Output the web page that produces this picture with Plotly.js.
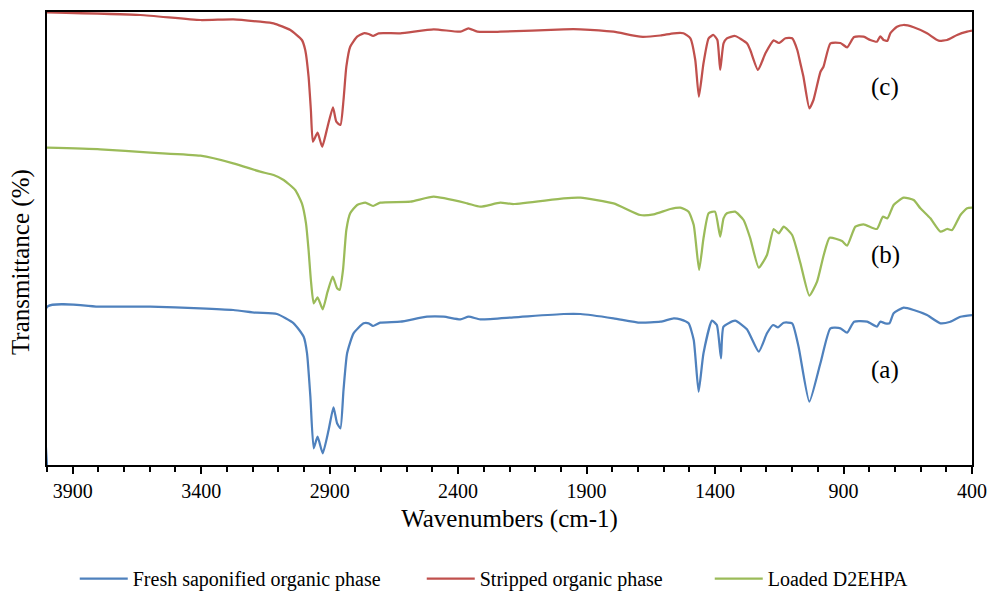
<!DOCTYPE html>
<html>
<head>
<meta charset="utf-8">
<script src="https://cdn.plot.ly/plotly-3.0.1.min.js"></script>
<style>
  html, body { margin: 0; padding: 0; background: #ffffff; }
  #chart { width: 988px; height: 592px; }
</style>
</head>
<body>
<div id="chart"></div>
<script>
// FTIR spectra, vertically offset (arbitrary transmittance units)

// (a) Fresh saponified organic phase
const freshWn = [4000, 3999, 3793, 3598, 3403, 3275, 3183, 3105, 3040, 3001, 2988, 2975, 2962, 2947, 2927, 2904, 2885, 2871, 2858, 2846, 2832, 2807, 2768, 2748, 2731, 2703, 2625, 2521, 2456, 2391, 2359, 2314, 2184, 1989, 1924, 1795, 1691, 1613, 1561, 1535, 1503, 1483, 1464, 1445, 1412, 1393, 1377, 1367, 1322, 1276, 1230, 1198, 1174, 1155, 1133, 1100, 1075, 1033, 990, 951, 912, 886, 859, 808, 770, 757, 738, 721, 705, 666, 627, 575, 523, 484, 445, 400];
const freshT = [0, 15.83, 15.83, 15.83, 15.67, 15.5, 15.23, 15.1, 14.17, 12.83, 11.17, 6.83, 1.67, 2.83, 1.17, 3.5, 5.77, 4.17, 3.67, 7.5, 11.17, 13.17, 14.17, 14.17, 13.9, 14.23, 14.33, 14.83, 14.83, 14.57, 14.83, 14.57, 14.77, 15.1, 15.1, 14.67, 14.23, 14.33, 14.67, 14.57, 14.17, 12.5, 7.33, 11.17, 14.43, 14.0, 10.67, 13.83, 14.43, 13.57, 11.33, 13.17, 14.0, 13.77, 14.23, 14.17, 11.83, 6.33, 10.17, 13.67, 13.67, 13.23, 14.33, 14.33, 13.83, 14.33, 14.17, 14.17, 15.17, 15.73, 15.5, 15.0, 14.17, 14.33, 14.83, 15.0];

// (c) Stripped organic phase
const strippedWn = [4000, 3637, 3403, 3275, 3170, 3118, 3053, 3008, 2995, 2982, 2973, 2965, 2947, 2929, 2908, 2887, 2874, 2858, 2846, 2835, 2820, 2793, 2768, 2748, 2731, 2709, 2625, 2495, 2391, 2360, 2325, 2236, 1989, 1924, 1795, 1691, 1613, 1561, 1523, 1496, 1477, 1463, 1445, 1425, 1406, 1391, 1380, 1367, 1354, 1322, 1276, 1263, 1233, 1204, 1172, 1152, 1126, 1100, 1080, 1068, 1056, 1033, 1017, 990, 978, 951, 912, 886, 859, 822, 796, 770, 757, 744, 729, 718, 692, 666, 627, 575, 530, 497, 458, 419, 400];
const strippedT = [45.27, 45.0, 44.5, 44.57, 44.33, 44.17, 43.5, 42.5, 41.5, 38.83, 35.5, 32.33, 33.23, 31.83, 33.83, 35.77, 34.33, 34.0, 36.5, 39.83, 41.83, 42.83, 43.17, 43.1, 42.9, 43.17, 43.17, 43.57, 43.33, 43.67, 43.33, 43.33, 43.57, 43.57, 43.33, 42.83, 42.95, 43.17, 43.17, 42.67, 40.5, 36.83, 40.17, 42.67, 43.0, 42.5, 39.5, 42.17, 42.67, 42.9, 42.17, 41.5, 39.5, 41.17, 42.47, 42.2, 42.67, 42.67, 41.5, 40.17, 38.83, 35.67, 36.5, 39.3, 39.83, 42.17, 42.2, 41.77, 42.8, 42.83, 42.5, 42.33, 42.87, 42.5, 42.43, 43.17, 43.83, 44.0, 43.77, 43.17, 42.43, 42.5, 43.0, 43.33, 43.43];

// (b) Loaded D2EHPA
const loadedWn = [4000, 3793, 3598, 3403, 3275, 3170, 3118, 3079, 3034, 3008, 2992, 2982, 2973, 2962, 2947, 2927, 2908, 2888, 2871, 2861, 2848, 2835, 2820, 2793, 2761, 2731, 2703, 2586, 2495, 2365, 2314, 2236, 2184, 1989, 1924, 1795, 1691, 1639, 1574, 1535, 1503, 1483, 1462, 1445, 1425, 1400, 1380, 1367, 1354, 1322, 1289, 1263, 1230, 1198, 1172, 1152, 1133, 1100, 1068, 1033, 1003, 977, 954, 906, 886, 854, 822, 770, 747, 729, 705, 666, 627, 601, 562, 523, 497, 477, 445, 419, 400];
const loadedT = [31.73, 31.57, 31.23, 30.93, 30.17, 29.33, 29.0, 28.5, 27.5, 26.17, 24.17, 21.5, 18.5, 16.17, 16.77, 15.57, 17.33, 18.83, 17.67, 17.5, 19.5, 23.5, 25.17, 26.0, 26.23, 25.9, 26.23, 26.33, 26.83, 26.17, 25.83, 26.23, 26.1, 26.67, 26.73, 26.17, 25.0, 25.07, 25.6, 25.73, 25.33, 24.0, 19.5, 22.67, 25.17, 25.33, 22.83, 24.67, 25.17, 25.33, 24.5, 22.67, 19.73, 21.0, 23.6, 23.17, 23.83, 23.0, 20.2, 16.93, 18.33, 21.0, 22.73, 22.4, 21.93, 23.83, 24.07, 23.6, 24.83, 24.67, 26.0, 26.73, 26.5, 25.67, 24.67, 23.33, 23.6, 23.5, 25.0, 25.67, 25.73];

const seriesNames = ['Fresh saponified organic phase', 'Stripped organic phase', 'Loaded D2EHPA'];
const seriesColors = ['#4F81BD', '#C0504D', '#9BBB59'];

// curve tags placed at the right side, next to each spectrum
const tagText = ['(a)', '(b)', '(c)'];
const tagWn = [738, 738, 738];
const tagT = [9.5, 21.0, 37.83];

const serif = 'Liberation Serif, Times New Roman, serif';

function spectrum(x, y, i, legendwidth) {
  return {
    type: 'scatter', mode: 'lines', x: x, y: y,
    name: seriesNames[i],
    line: { color: seriesColors[i], width: 2.25, shape: 'spline', smoothing: 0.5 },
    legendwidth: legendwidth,
    hoverinfo: 'x+y+name'
  };
}

const traces = [
  spectrum(freshWn, freshT, 0, 284),
  spectrum(strippedWn, strippedT, 1, 225),
  spectrum(loadedWn, loadedT, 2, 150)
];

const annotations = tagText.map((t, i) => ({
  x: tagWn[i], y: tagT[i], xref: 'x', yref: 'y',
  text: t, showarrow: false,
  font: { family: serif, size: 25, color: '#000000' },
  xanchor: 'center', yanchor: 'middle'
}));

// vertical axis caption, set a little below the axis middle
annotations.push({
  text: 'Transmittance (%)', xref: 'paper', yref: 'paper',
  x: -0.0281, y: 0.448, xanchor: 'center', yanchor: 'middle',
  textangle: -90, showarrow: false,
  font: { family: serif, size: 25, color: '#000000' }
});

const layout = {
  width: 988, height: 592,
  margin: { l: 47, r: 16, t: 12, b: 127, pad: 0, autoexpand: false },
  paper_bgcolor: '#ffffff', plot_bgcolor: '#ffffff',
  font: { family: serif, size: 20, color: '#000000' },
  showlegend: true,
  legend: {
    orientation: 'h', x: 0.03, xanchor: 'left', y: -0.2936, yanchor: 'bottom',
    font: { family: serif, size: 20, color: '#000000' },
    itemwidth: 48, traceorder: 'normal', bgcolor: 'rgba(0,0,0,0)'
  },
  xaxis: {
    range: [4000, 400],
    tick0: 400, dtick: 500,
    ticks: 'outside', ticklen: 7, tickwidth: 2, tickcolor: '#000000',
    minor: { dtick: 100, ticks: 'outside', ticklen: 5, tickwidth: 2, tickcolor: '#000000', showgrid: false },
    showgrid: false, zeroline: false,
    showline: true, linecolor: '#000000', linewidth: 2, mirror: true,
    tickfont: { family: serif, size: 20, color: '#000000' },
    title: { text: 'Wavenumbers (cm-1)', font: { family: serif, size: 25, color: '#000000' }, standoff: 8 }
  },
  yaxis: {
    range: [0, 45.3],
    showticklabels: false, ticks: '',
    showgrid: false, zeroline: false, layer: 'below traces',
    showline: true, linecolor: '#000000', linewidth: 2, mirror: true
  },
  annotations: annotations
};

Plotly.newPlot('chart', traces, layout, { displayModeBar: false, staticPlot: true });
</script>
</body>
</html>
